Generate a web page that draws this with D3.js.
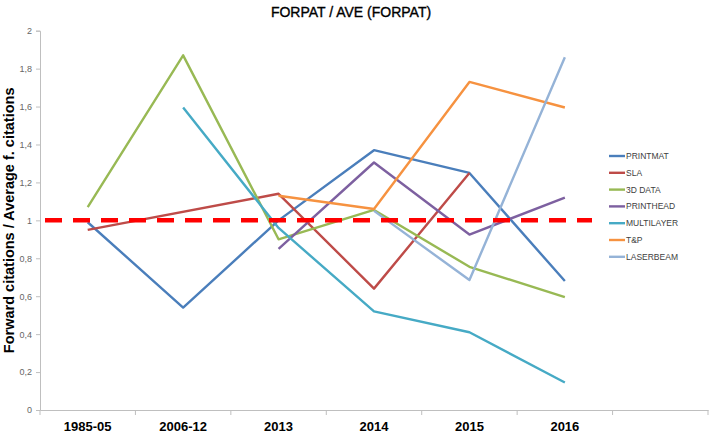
<!DOCTYPE html>
<html>
<head>
<meta charset="utf-8">
<script src="https://cdn.jsdelivr.net/npm/d3@7/dist/d3.min.js"></script>
<style>
  html, body { margin: 0; padding: 0; background: #fff; }
  svg { display: block; }
</style>
</head>
<body>
<svg id="chart" width="712" height="436"></svg>
<script>
const categories = ["1985-05", "2006-12", "2013", "2014", "2015", "2016", ""];
const seriesNames = ["PRINTMAT", "SLA", "3D DATA", "PRINTHEAD", "MULTILAYER", "T&P", "LASERBEAM"];
const printmat   = [0.99, 0.54, 1.00, 1.37, 1.25, 0.68];
const sla        = [0.95, null, 1.14, 0.64, 1.25, null];
const data3d     = [1.07, 1.87, 0.90, 1.055, 0.755, 0.595];
const printhead  = [null, null, 0.85, 1.305, 0.925, 1.12];
const multilayer = [null, 1.595, 0.96, 0.52, 0.41, 0.145];
const tp         = [null, null, 1.13, 1.06, 1.73, 1.595];
const laserbeam  = [null, null, null, 1.05, 0.685, 1.86];
const yTicks = [0, 0.2, 0.4, 0.6, 0.8, 1, 1.2, 1.4, 1.6, 1.8, 2];
const referenceValue = 1;
const colors = ["#4A7EBB", "#BE4B48", "#98B954", "#7D60A0", "#46AAC5", "#F69240", "#95B3D7"];

const seriesValues = [printmat, sla, data3d, printhead, multilayer, tp, laserbeam];

(function () {
const svg = d3.select("#chart");
const pLeft = 40, pRight = 708, pTop = 30.7, pBottom = 410;

const x = d3.scaleBand().domain(categories).range([pLeft, pRight]).padding(0);
const y = d3.scaleLinear().domain([0, 2]).range([pBottom, pTop]);
const cx = c => x(c) + x.bandwidth() / 2;

// title
svg.append("text")
  .attr("x", 351).attr("y", 17)
  .attr("text-anchor", "middle")
  .attr("font-family", "Liberation Sans, Arial, sans-serif")
  .attr("font-size", 14)
  .attr("fill", "#000")
  .attr("stroke", "#000").attr("stroke-width", 0.35)
  .text("FORPAT / AVE (FORPAT)");

// y axis
const yAxis = svg.append("g").attr("transform", `translate(${pLeft},0)`)
  .call(d3.axisLeft(y).tickValues(yTicks).tickSize(4).tickPadding(4)
    .tickFormat(d => String(d).replace(".", ",")));
yAxis.select(".domain").attr("stroke", "#BFBFBF");
yAxis.selectAll(".tick line").attr("stroke", "#BFBFBF");
yAxis.selectAll(".tick text")
  .attr("font-family", "Liberation Sans, Arial, sans-serif")
  .attr("font-size", 9).attr("fill", "#666666");

// x axis
const xAxis = svg.append("g").attr("transform", `translate(0,${pBottom})`)
  .call(d3.axisBottom(x).tickSize(0).tickPadding(12));
xAxis.select(".domain").attr("stroke", "#BFBFBF");
xAxis.selectAll(".tick text")
  .attr("font-family", "Liberation Sans, Arial, sans-serif")
  .attr("font-weight", "bold")
  .attr("font-size", 13).attr("fill", "#000");
const bounds = categories.map(c => x(c)).concat([x.range()[1]]);
xAxis.selectAll(".bound").data(bounds).enter().append("line")
  .attr("class", "bound")
  .attr("x1", d => d).attr("x2", d => d)
  .attr("y1", 0).attr("y2", 5)
  .attr("stroke", "#BFBFBF");

// y axis title
svg.append("text")
  .attr("transform", `translate(14,${(pTop + pBottom) / 2}) rotate(-90)`)
  .attr("text-anchor", "middle")
  .attr("font-family", "Liberation Sans, Arial, sans-serif")
  .attr("font-weight", "bold")
  .attr("font-size", 14.5)
  .attr("fill", "#000")
  .text("Forward citations / Average f. citations");

// series lines
const line = d3.line().x(d => cx(d.c)).y(d => y(d.v));
seriesValues.forEach((vals, i) => {
  const pts = vals.map((v, j) => ({ c: categories[j], v })).filter(d => d.v !== null);
  svg.append("path")
    .datum(pts)
    .attr("d", line)
    .attr("fill", "none")
    .attr("stroke", colors[i])
    .attr("stroke-width", 2.4)
    .attr("stroke-linejoin", "round");
});

// red dashed reference line
svg.append("line")
  .attr("x1", pLeft + 5).attr("x2", 592)
  .attr("y1", y(referenceValue)).attr("y2", y(referenceValue))
  .attr("stroke", "#FF0000")
  .attr("stroke-width", 4.5)
  .attr("stroke-dasharray", "17,11");

// legend
const lg = svg.append("g");
seriesNames.forEach((n, i) => {
  const yy = 156 + i * 16.8;
  lg.append("line").attr("x1", 609).attr("x2", 625).attr("y1", yy).attr("y2", yy)
    .attr("stroke", colors[i]).attr("stroke-width", 2.4);
  lg.append("text").attr("x", 626).attr("y", yy + 3)
    .attr("font-family", "Liberation Sans, Arial, sans-serif")
    .attr("font-size", 8.5).attr("fill", "#404040")
    .text(n);
});
})();
</script>
</body>
</html>
